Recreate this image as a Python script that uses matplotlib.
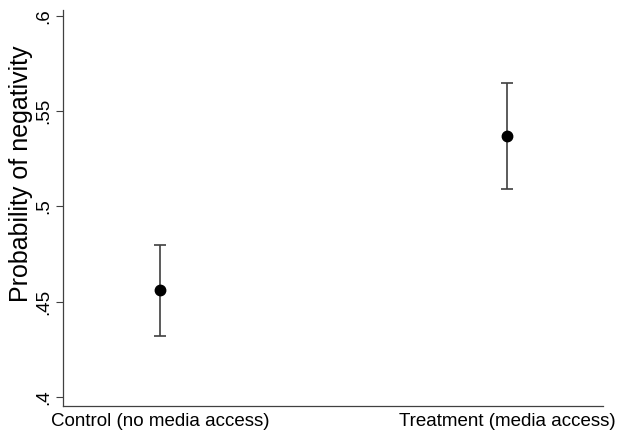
import matplotlib
matplotlib.use("Agg")
import matplotlib.pyplot as plt

categories = ["Control (no media access)", "Treatment (media access)"]
means = [0.456, 0.537]
ci_low = [0.432, 0.509]
ci_high = [0.480, 0.565]
yticks = [0.4, 0.45, 0.5, 0.55, 0.6]
ytick_labels = [".4", ".45", ".5", ".55", ".6"]

plt.rcParams['font.family'] = ['Liberation Sans', 'DejaVu Sans']

fig = plt.figure(figsize=(6.18, 4.34), dpi=100)
ax = fig.add_axes([63/618, 1-406/434, (603-63)/618, (406-10)/434])

x = list(range(len(categories)))
yerr = [[m - l for m, l in zip(means, ci_low)], [h - m for m, h in zip(means, ci_high)]]
ax.errorbar(x, means, yerr=yerr, fmt='none', ecolor='#404040', elinewidth=1.2,
            capsize=4.5, capthick=1.2, zorder=2)
ax.plot(x, means, 'o', color='black', markersize=7.5, zorder=3)

ax.set_xlim(-0.28, 0.277 + 1)
ax.set_ylim(0.3953, 0.6031)
ax.set_xticks(x)
ax.set_xticklabels(categories, fontsize=13.5)
ax.tick_params(axis='x', length=0, pad=5)
ax.set_yticks(yticks)
ax.set_yticklabels(ytick_labels, fontsize=13.5, rotation=90, va='center')
ax.tick_params(axis='y', length=5, width=0.8, color='#404040', pad=3)
ax.set_ylabel("Probability of negativity", fontsize=18)
ax.yaxis.label.set_ha('center')
ax.yaxis.label.set_va('center')
ax.yaxis.set_label_coords(-0.078, 0.586)

for s in ['top', 'right']:
    ax.spines[s].set_visible(False)
for s in ['left', 'bottom']:
    ax.spines[s].set_color('#404040')
    ax.spines[s].set_linewidth(0.9)

fig.savefig("out.png", dpi=100)
